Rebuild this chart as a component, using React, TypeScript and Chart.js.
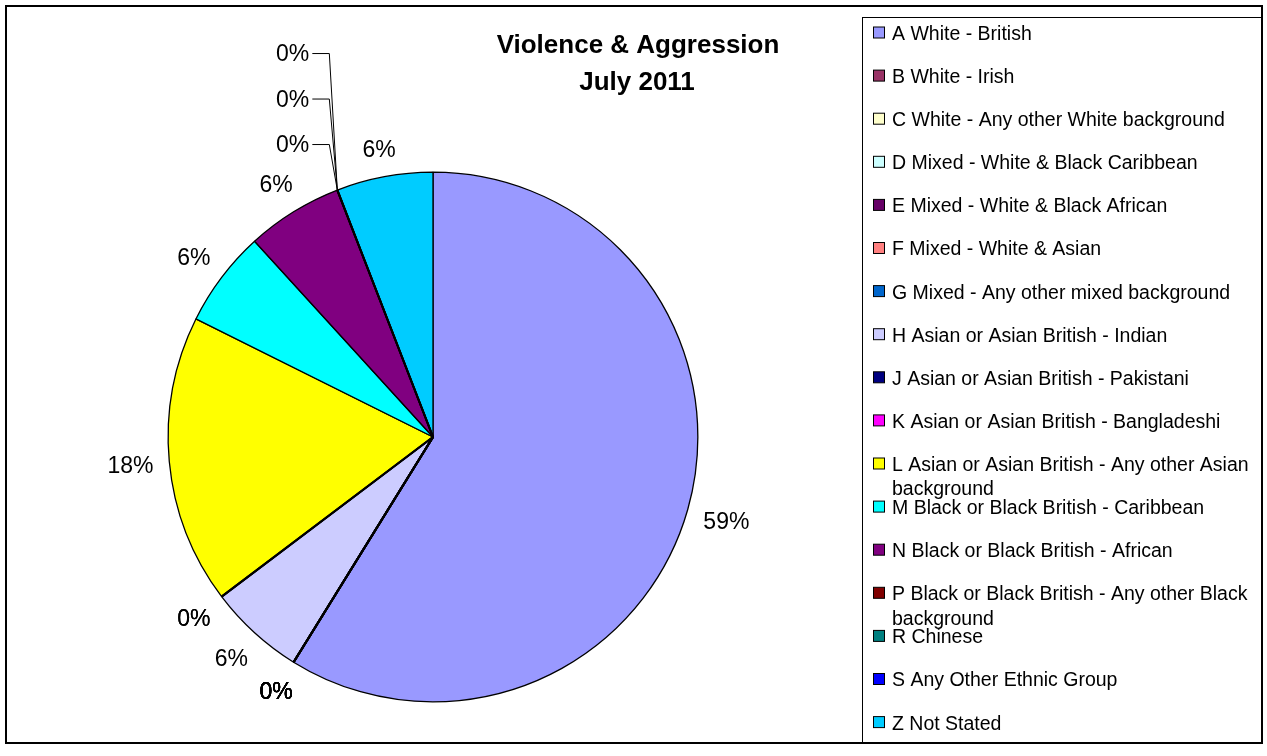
import React, { useEffect, useRef } from "react";
import { Chart, registerables } from "chart.js";

Chart.register(...registerables);

// ---- data ----
const categories: string[] = [
  "A White - British",
  "B White - Irish",
  "C White - Any other White background",
  "D Mixed - White & Black Caribbean",
  "E Mixed - White & Black African",
  "F Mixed - White & Asian",
  "G Mixed - Any other mixed background",
  "H Asian or Asian British - Indian",
  "J Asian or Asian British - Pakistani",
  "K Asian or Asian British - Bangladeshi",
  "L Asian or Asian British - Any other Asian background",
  "M Black or Black British - Caribbean",
  "N Black or Black British - African",
  "P Black or Black British - Any other Black background",
  "R Chinese",
  "S Any Other Ethnic Group",
  "Z Not Stated",
];
const counts: number[] = [10, 0, 0, 0, 0, 0, 0, 1, 0, 0, 3, 1, 1, 0, 0, 0, 1];
const sliceColors: string[] = [
  "#9999FF", "#993366", "#FFFFCC", "#CCFFFF", "#660066", "#FF8080", "#0066CC",
  "#CCCCFF", "#000080", "#FF00FF", "#FFFF00", "#00FFFF", "#800080", "#800000",
  "#008080", "#0000FF", "#00CCFF",
];
const titleLines: string[] = ["Violence & Aggression", "July 2011"];
const leaderCodes: string[] = ["P", "R", "S"];

const FONT = "Arial, 'Liberation Sans', sans-serif";

const decorPlugin = {
  id: "decor",
  afterDraw(chart: any) {
    const ctx: CanvasRenderingContext2D = chart.ctx;
    const total = counts.reduce((a, b) => a + b, 0);
    ctx.save();

    // outer frame
    ctx.strokeStyle = "#000";
    ctx.lineWidth = 2;
    ctx.strokeRect(6, 6, 1256, 737);

    // zero-value slice boundaries (stacked borders)
    const meta = chart.getDatasetMeta(0);
    meta.data.forEach((arc: any, i: number) => {
      if (counts[i] !== 0) return;
      const a = arc.startAngle;
      ctx.beginPath();
      ctx.moveTo(arc.x, arc.y);
      ctx.lineTo(arc.x + arc.outerRadius * Math.cos(a), arc.y + arc.outerRadius * Math.sin(a));
      ctx.lineWidth = 2;
      ctx.strokeStyle = "#000";
      ctx.stroke();
    });

    // title
    ctx.fillStyle = "#000";
    ctx.font = `bold 26px ${FONT}`;
    ctx.textAlign = "center";
    ctx.textBaseline = "alphabetic";
    ctx.fillText(titleLines[0], 638, 53);
    ctx.fillText(titleLines[1], 637, 90);

    // percentage labels
    const labelSize = 23;
    ctx.font = `${labelSize}px ${FONT}`;
    const halfH = 11;
    const gap = 15;
    const capOff = 0.358 * labelSize;
    meta.data.forEach((arc: any, i: number) => {
      const txt = Math.round((counts[i] / total) * 100) + "%";
      const mid = (arc.startAngle + arc.endAngle) / 2;
      const c = Math.cos(mid);
      const s = Math.sin(mid);
      const R = arc.outerRadius;
      const code = categories[i].charAt(0);
      const li = leaderCodes.indexOf(code);
      if (li >= 0) {
        const level = leaderCodes.length - 1 - li;
        const ax = arc.x + R * c;
        const ay = arc.y + R * s;
        const ly = ay - 46 - level * 45.5;
        const right = ax - 28;
        ctx.textAlign = "right";
        ctx.fillText(txt, right, ly + capOff);
        ctx.beginPath();
        ctx.lineWidth = 1;
        ctx.moveTo(right + 3, ly + 0.5);
        ctx.lineTo(ax - 8, ly + 0.5);
        ctx.lineTo(ax, ay);
        ctx.stroke();
        return;
      }
      const w = ctx.measureText(txt).width;
      const dist = R + gap + (w / 2) * Math.abs(c) + halfH * Math.abs(s);
      const lx = arc.x + dist * c;
      const ly = arc.y + dist * s;
      ctx.textAlign = "center";
      ctx.fillText(txt, lx, ly + capOff);
    });

    // legend box
    ctx.lineWidth = 1;
    ctx.strokeStyle = "#000";
    ctx.strokeRect(862.5, 17.5, 399, 725.5);
    const legSize = 19.5;
    ctx.font = `${legSize}px ${FONT}`;
    ctx.textAlign = "left";
    const textX = 892;
    const maxW = 368;
    categories.forEach((label, i) => {
      const cy = 33 + i * 43.1;
      ctx.fillStyle = sliceColors[i];
      ctx.fillRect(873.5, cy - 6, 11, 11);
      ctx.strokeStyle = "#000";
      ctx.strokeRect(873.5, cy - 6, 11, 11);
      ctx.fillStyle = "#000";
      // word wrap
      const words = label.split(" ");
      const lines: string[] = [];
      let cur = "";
      words.forEach((wd) => {
        const test = cur ? cur + " " + wd : wd;
        if (ctx.measureText(test).width > maxW && cur) {
          lines.push(cur);
          cur = wd;
        } else cur = test;
      });
      if (cur) lines.push(cur);
      lines.forEach((ln, k) => {
        ctx.fillText(ln, textX, cy + 0.358 * legSize + k * 24.5);
      });
    });

    ctx.restore();
  },
};

export default function App() {
  const ref = useRef<HTMLCanvasElement | null>(null);
  useEffect(() => {
    document.body.style.margin = "0";
    if (!ref.current) return;
    const chart = new Chart(ref.current, {
      type: "pie",
      data: {
        labels: categories,
        datasets: [
          {
            data: counts,
            backgroundColor: sliceColors,
            borderColor: "#000",
            borderWidth: 1.3,
            hoverOffset: 0,
          },
        ],
      },
      options: {
        responsive: false,
        animation: false,
        devicePixelRatio: 1,
        layout: { padding: { left: 167.5, right: 568.5, top: 171.5, bottom: 53.5 } },
        plugins: {
          legend: { display: false },
          title: { display: false },
          tooltip: { enabled: false },
        },
        events: [],
      },
      plugins: [decorPlugin],
    });
    return () => chart.destroy();
  }, []);
  return (
    <canvas
      ref={ref}
      width={1267}
      height={756}
      style={{ display: "block", width: "1267px", height: "756px" }}
    />
  );
}
